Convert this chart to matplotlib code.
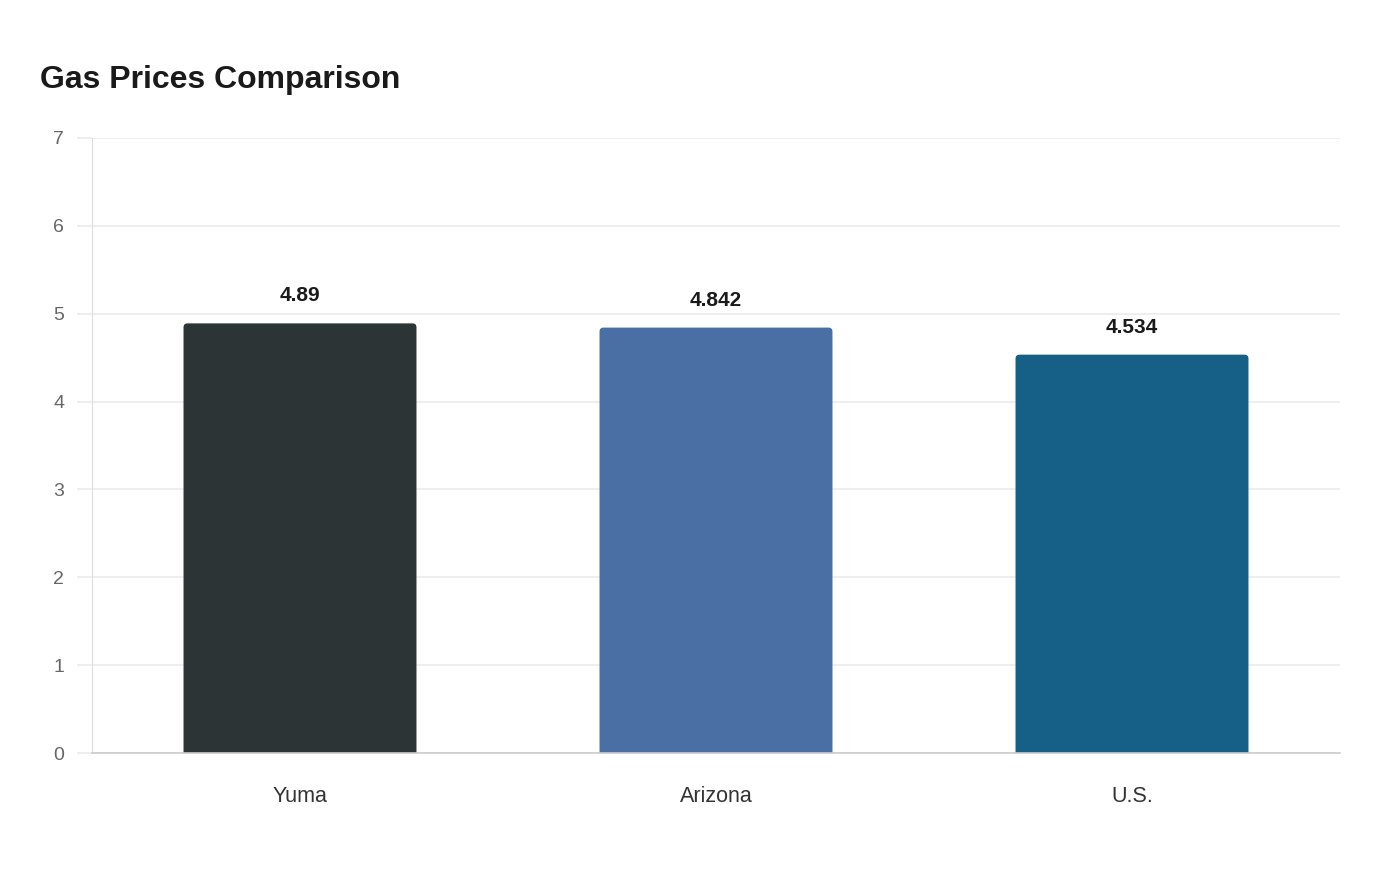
import matplotlib
matplotlib.use("Agg")
import matplotlib.pyplot as plt
from matplotlib.patches import FancyBboxPatch

plt.rcParams['font.family'] = ['Liberation Sans', 'DejaVu Sans']

# data
regions = ["Yuma", "Arizona", "U.S."]
prices = [4.89, 4.842, 4.534]
bar_colors = ["#2d3436", "#4a6fa5", "#166088"]
y_ticks = [0, 1, 2, 3, 4, 5, 6, 7]

fig = plt.figure(figsize=(14, 8.8), dpi=100)
ax = fig.add_axes([92 / 1400, 127 / 880, 1248 / 1400, 615 / 880])

bars = ax.bar(regions, prices, width=0.56, color=bar_colors)
ax.set_xlim(-0.5, len(regions) - 0.5)
ax.set_ylim(0, 7)

# rounded tops: swap plain rects for rounded boxes (bottom pushed below 0, clipped)
px_x = 1248 / len(regions)
px_y = 615 / 7
r = 4 / px_x
for rect, c in zip(bars, bar_colors):
    x0, w, h = rect.get_x(), rect.get_width(), rect.get_height()
    rect.remove()
    p = FancyBboxPatch((x0, -0.2), w, h + 0.2,
                       boxstyle=f"round,pad=0,rounding_size={r}",
                       mutation_aspect=px_x / px_y,
                       facecolor=c, edgecolor="none", zorder=2)
    ax.add_patch(p)

for i, v in enumerate(prices):
    ax.annotate(f"{v:g}", (i, v), xytext=(0, 13), textcoords="offset points",
                ha="center", va="bottom", fontsize=15, fontweight="bold",
                color="#1a1a1a")

ax.set_yticks(y_ticks)
ax.grid(axis="y", color="#ebebeb", linewidth=1.2, zorder=0)
ax.set_axisbelow(True)
for s in ["top", "right"]:
    ax.spines[s].set_visible(False)
ax.spines["left"].set_color("#dddddd")
ax.spines["bottom"].set_color("#cccccc")
ax.spines["bottom"].set_linewidth(1.2)
ax.tick_params(axis="y", length=11, width=1.2, color="#ebebeb", pad=9,
               labelsize=14, labelcolor="#666666")
ax.tick_params(axis="x", length=0, pad=24, labelsize=15.5, labelcolor="#333333")

fig.text(40 / 1400, 1 - 80 / 880, "Gas Prices Comparison", fontsize=23,
         fontweight="bold", color="#1a1a1a", va="center", ha="left")

fig.savefig("out.png", dpi=100, facecolor="white")
